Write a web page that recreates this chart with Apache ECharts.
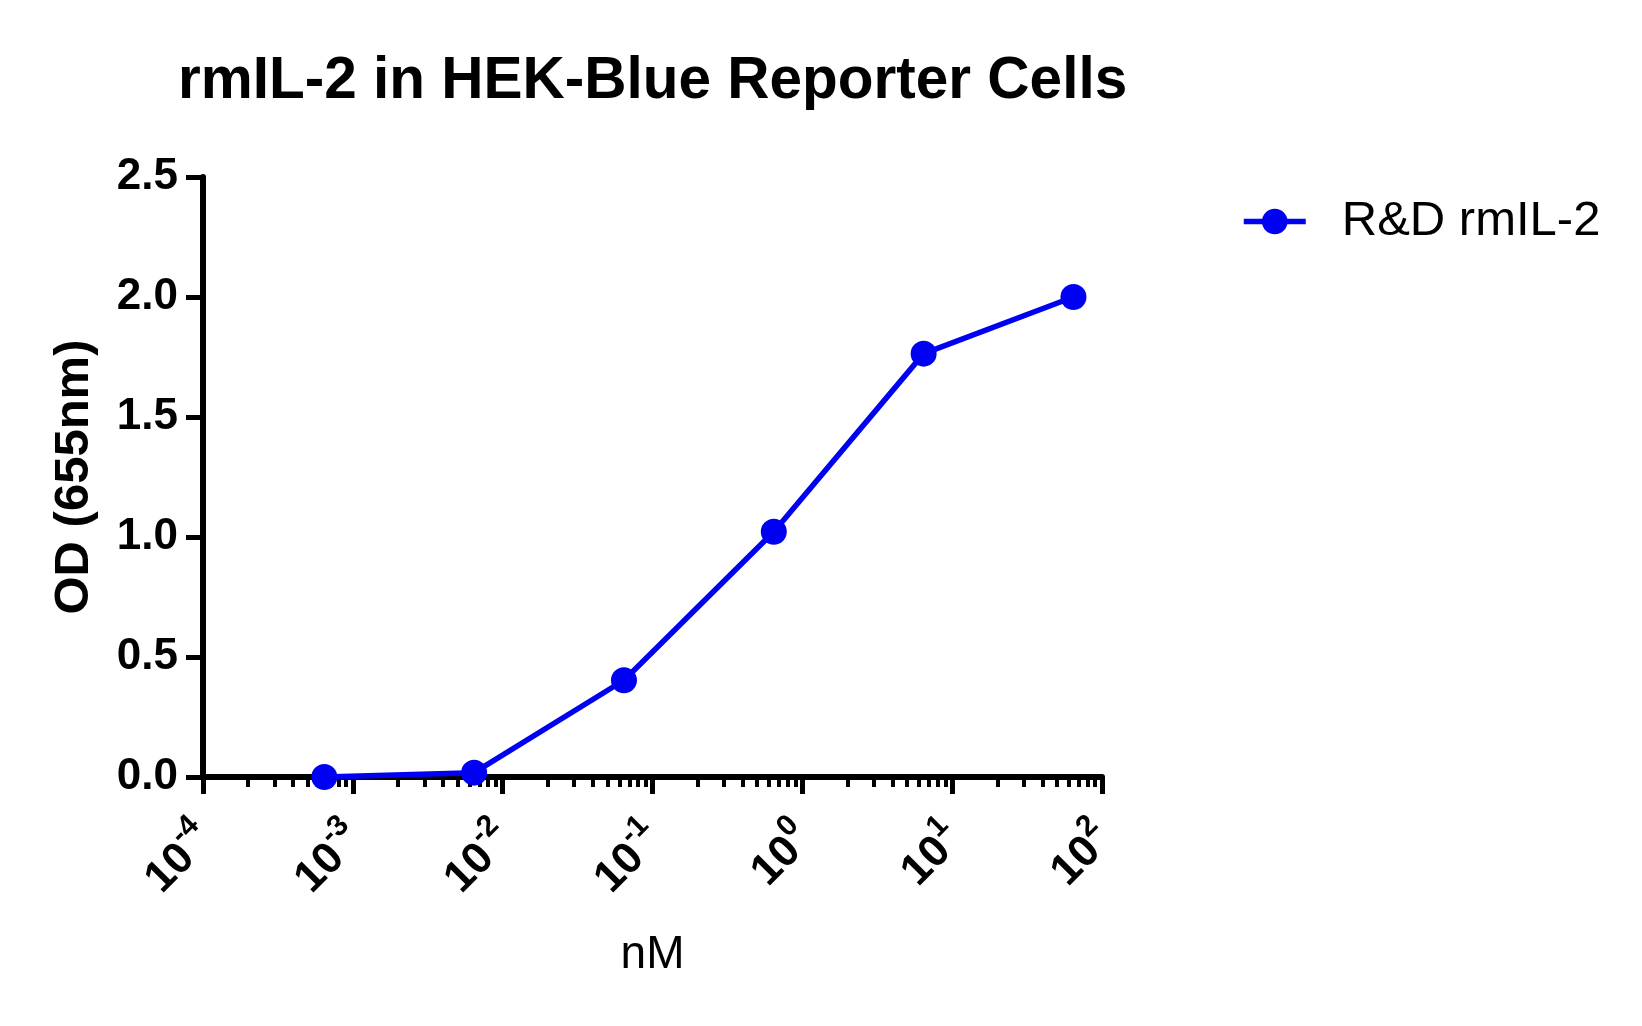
<!DOCTYPE html>
<html><head><meta charset="utf-8">
<script src="https://cdn.jsdelivr.net/npm/echarts@6/dist/echarts.min.js"></script>
<style>html,body{margin:0;padding:0;background:#fff}#c{width:1642px;height:1026px}</style>
</head><body><div id="c"></div>
<script>
const chartTitle = 'rmIL-2 in HEK-Blue Reporter Cells';
const seriesName = 'R&D rmIL-2';
const xAxisName = 'nM';
const yAxisName = 'OD (655nm)';
const concentrations = [0.000645, 0.00645, 0.0645, 0.645, 6.45, 64.5];
const odValues = [0.0, 0.018, 0.403, 1.022, 1.764, 2.0];
const xDecades = [-4, -3, -2, -1, 0, 1, 2];
const yTicks = [0, 0.5, 1.0, 1.5, 2.0, 2.5];

const FONT = 'Liberation Sans, Arial, sans-serif';
const BLUE = '#0000f2';

const minorTickLogs = [];
for (let i = 0; i < xDecades.length - 1; i++) {
  for (let k = 2; k <= 9; k++) minorTickLogs.push(xDecades[i] + Math.log10(k));
}

const chart = echarts.init(document.getElementById('c'), null, {renderer: 'canvas'});
chart.setOption({
  animation: false,
  backgroundColor: '#fff',
  title: {
    text: chartTitle, left: 178, top: 52, padding: 0,
    textStyle: {fontFamily: FONT, fontSize: 58.5, fontWeight: 'bold', color: '#000'}
  },
  legend: {
    left: 1236, top: 192, itemWidth: 62, itemHeight: 32,
    data: [seriesName],
    lineStyle: {width: 5.5, color: BLUE},
    textStyle: {fontFamily: FONT, fontSize: 49, color: '#000', padding: [0, 0, 0, 31]}
  },
  grid: {left: 203, right: 540, top: 177, bottom: 249, containLabel: false},
  xAxis: [{
    type: 'log', logBase: 10,
    min: Math.pow(10, xDecades[0]), max: Math.pow(10, xDecades[xDecades.length - 1]),
    name: xAxisName, nameLocation: 'middle', nameGap: 155,
    nameTextStyle: {fontFamily: FONT, fontSize: 46, color: '#000'},
    axisLine: {show: true, onZero: false, lineStyle: {color: '#000', width: 6}},
    axisTick: {show: true, length: 17, lineStyle: {color: '#000', width: 5}},
    splitLine: {show: false},
    axisLabel: {
      rotate: 45, margin: 52, color: '#000',
      formatter: function (v) {
        const e = Math.round(Math.log10(v));
        return '{b|10}{s|' + e + '}';
      },
      rich: {
        b: {fontFamily: FONT, fontWeight: 'bold', fontSize: 44, lineHeight: 54, verticalAlign: 'bottom', color: '#000'},
        s: {fontFamily: FONT, fontWeight: 'bold', fontSize: 30, lineHeight: 30, verticalAlign: 'top', color: '#000'}
      }
    }
  }, {
    type: 'value', min: xDecades[0], max: xDecades[xDecades.length - 1],
    position: 'bottom', gridIndex: 0,
    axisLine: {show: false, onZero: false},
    axisLabel: {show: false},
    splitLine: {show: false},
    axisTick: {show: true, customValues: minorTickLogs, length: 10, lineStyle: {color: '#000', width: 4}}
  }],
  yAxis: {
    type: 'value', min: yTicks[0], max: yTicks[yTicks.length - 1], interval: 0.5,
    name: yAxisName, nameLocation: 'middle', nameGap: 104, nameRotate: 90,
    nameTextStyle: {fontFamily: FONT, fontSize: 49, fontWeight: 'bold', color: '#000'},
    axisLine: {show: true, onZero: false, lineStyle: {color: '#000', width: 6}},
    axisTick: {show: true, length: 17, lineStyle: {color: '#000', width: 5}},
    splitLine: {show: false},
    axisLabel: {
      margin: 25, color: '#000', fontFamily: FONT, fontWeight: 'bold', fontSize: 44,
      formatter: v => v.toFixed(1)
    }
  },
  series: [{
    name: seriesName, type: 'line', xAxisIndex: 0,
    data: concentrations.map((c, i) => [c, odValues[i]]),
    symbol: 'circle', symbolSize: 26,
    lineStyle: {color: BLUE, width: 5.5},
    itemStyle: {color: BLUE},
    z: 5
  }]
});
</script></body></html>
